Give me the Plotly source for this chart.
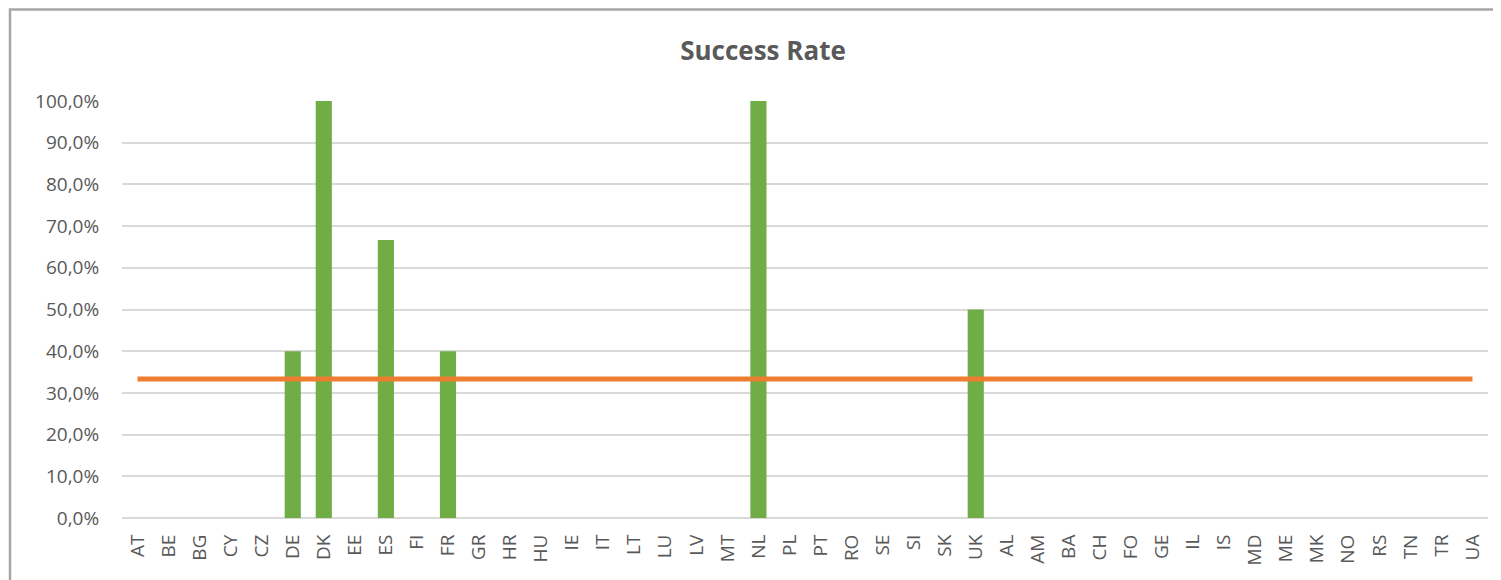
import plotly.graph_objects as go

countries = ["AT", "BE", "BG", "CY", "CZ", "DE", "DK", "EE", "ES", "FI", "FR", "GR", "HR", "HU",
             "IE", "IT", "LT", "LU", "LV", "MT", "NL", "PL", "PT", "RO", "SE", "SI", "SK", "UK",
             "AL", "AM", "BA", "CH", "FO", "GE", "IL", "IS", "MD", "ME", "MK", "NO", "RS", "TN",
             "TR", "UA"]
success_rate = [0, 0, 0, 0, 0, 0.40, 1.0, 0, 0.6667, 0, 0.40, 0, 0, 0,
                0, 0, 0, 0, 0, 0, 1.0, 0, 0, 0, 0, 0, 0, 0.50,
                0, 0, 0, 0, 0, 0, 0, 0, 0, 0, 0, 0, 0, 0,
                0, 0]
average_rate = [0.3333] * len(countries)

# page body has an 8px margin, so the figure is sized to end at the window edge
W, H = 1493, 572
L, R, T, B = 114, 13, 93, 62
pw, ph = W - L - R, H - T - B

FONT = "Open Sans, Liberation Sans, sans-serif"

fig = go.Figure()
fig.add_trace(go.Bar(x=countries, y=success_rate, marker_color="#70AD47",
                     marker_line_width=0, name="Success Rate"))
fig.add_trace(go.Scatter(x=countries, y=average_rate, mode="lines",
                         line=dict(color="#ED7D31", width=5), name="Average"))

# chart-area frame (left and top edges visible, the rest runs off the page)
fig.add_shape(type="rect", xref="paper", yref="paper",
              x0=(2 - L) / pw, x1=(W + 60 - L) / pw,
              y0=(H - B - (H + 60)) / ph, y1=(H - B - 1.5) / ph,
              line=dict(color="#A6A6A6", width=2.5), fillcolor="rgba(0,0,0,0)", layer="below")

fig.update_layout(
    width=W, height=H,
    margin=dict(l=L, r=R, t=T, b=B, pad=0),
    paper_bgcolor="white", plot_bgcolor="white",
    showlegend=False,
    bargap=0.48,
    separators=", ",
    font=dict(family=FONT, color="#595959", size=19),
    title=dict(text="<b>Success Rate</b>", x=(763 - 8) / W, xref="container", xanchor="center",
               y=1 - 43 / H, yref="container", yanchor="middle",
               font=dict(size=26, color="#595959", family=FONT)),
    xaxis=dict(tickangle=-90, showgrid=False, showline=False,
               ticks="outside", ticklen=8, tickcolor="rgba(0,0,0,0)",
               tickfont=dict(size=19, color="#595959", family=FONT)),
    yaxis=dict(range=[0, 1.0], dtick=0.1, tickformat=".1%", showgrid=True,
               gridcolor="#D9D9D9", gridwidth=1.5, zeroline=True, zerolinecolor="#D9D9D9",
               zerolinewidth=1.5, showline=False,
               ticks="outside", ticklen=18, tickcolor="rgba(0,0,0,0)",
               tickfont=dict(size=19, color="#595959", family=FONT)),
)

fig.write_html("out.html")
